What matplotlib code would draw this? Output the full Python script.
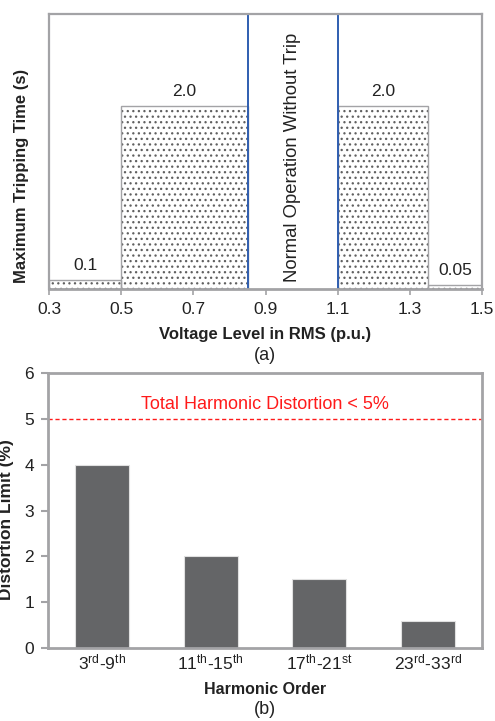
import numpy as np
import matplotlib
matplotlib.use('Agg')
import matplotlib.pyplot as plt

plt.rcParams['font.family'] = ['Liberation Sans', 'DejaVu Sans']
plt.rcParams['mathtext.fontset'] = 'custom'
plt.rcParams['mathtext.rm'] = 'Liberation Sans'
plt.rcParams['mathtext.it'] = 'Liberation Sans:italic'
plt.rcParams['mathtext.bf'] = 'Liberation Sans:bold'
plt.rcParams['hatch.linewidth'] = 0.9

# (a) tripping time vs voltage
v_left = [0.3, 0.5, 1.1, 1.35]
v_width = [0.2, 0.35, 0.25, 0.15]
trip_time = [0.1, 2.0, 2.0, 0.05]
trip_labels = ['0.1', '2.0', '2.0', '0.05']
normal_band = [0.85, 1.1]
v_ticks = [0.3, 0.5, 0.7, 0.9, 1.1, 1.3, 1.5]

# (b) harmonic limits
harmonics = ['3$^{\\rm rd}$-9$^{\\rm th}$', '11$^{\\rm th}$-15$^{\\rm th}$',
             '17$^{\\rm th}$-21$^{\\rm st}$', '23$^{\\rm rd}$-33$^{\\rm rd}$']
dist_limit = [4, 2, 1.5, 0.6]
thd_limit = 5

frame = '#a3a3a6'
txt = '#222222'
fig = plt.figure(figsize=(4.95, 7.21), dpi=100)

# ---- top chart
ax1 = fig.add_axes([0.099, 0.599, 0.875, 0.3816])
ax1.bar(v_left, trip_time, width=v_width, align='edge', color='white',
        edgecolor='#606060', hatch='...', linewidth=0)
ax1.bar(v_left, trip_time, width=v_width, align='edge', fill=False,
        edgecolor=frame, linewidth=1.0)
for x0, w, h, lab in zip(v_left, v_width, trip_time, trip_labels):
    ax1.annotate(lab, (x0 + w / 2, h), xytext=(0, 5), textcoords='offset points',
                 ha='center', va='bottom', fontsize=12.5, color=txt)
for xv in normal_band:
    ax1.axvline(xv, color='#2f5eb0', lw=1.4)
ax1.text(sum(normal_band) / 2, 1.44, 'Normal Operation Without Trip', rotation=90,
         ha='center', va='center', fontsize=13.3, color=txt)
ax1.set_xlim(0.3, 1.5)
ax1.set_ylim(0, 3.0)
ax1.set_xticks(v_ticks)
ax1.set_xticklabels([f'{t:.1f}' for t in v_ticks], fontsize=12.5, color=txt)
ax1.set_yticks([])
ax1.tick_params(axis='x', direction='out', length=4, color=frame, width=1.2, pad=5)
for s in ax1.spines.values():
    s.set_color(frame)
    s.set_linewidth(1.6)
ax1.spines['bottom'].set_linewidth(2)
fig.text(0.535, 1 - 335 / 721, 'Voltage Level in RMS (p.u.)', ha='center', va='center',
         fontsize=12, fontweight='bold', color=txt)
fig.text(0.535, 1 - 355 / 721, '(a)', ha='center', va='center', fontsize=13, color=txt)
fig.text(22 / 495, 1 - 176 / 721, 'Maximum Tripping Time (s)', rotation=90, ha='center',
         va='center', fontsize=12, fontweight='bold', color=txt)

# ---- bottom chart
ax2 = fig.add_axes([0.097, 0.1012, 0.877, 0.3815])
x = np.arange(len(harmonics))
ax2.bar(x, dist_limit, width=0.5, color='#646567', edgecolor='#e0e0e0', linewidth=0.8)
ax2.axhline(thd_limit, color='#ff1a1a', lw=1, ls=(0, (3, 2)))
ax2.text(1.5, thd_limit + 0.12, 'Total Harmonic Distortion < 5%', ha='center', va='bottom',
         fontsize=13, color='#ff1a1a')
ax2.set_xlim(-0.5, 3.5)
ax2.set_ylim(0, 6)
ax2.set_yticks(range(0, 7))
ax2.set_yticklabels([str(i) for i in range(0, 7)], fontsize=12.5, color=txt)
ax2.set_xticks(x)
ax2.set_xticklabels(harmonics, fontsize=12.5, color=txt)
ax2.tick_params(axis='y', direction='out', length=5, color=frame, width=1.5, pad=5)
ax2.tick_params(axis='x', length=0, pad=3)
for s in ax2.spines.values():
    s.set_color(frame)
    s.set_linewidth(2)
fig.text(0.535, 1 - 690 / 721, 'Harmonic Order', ha='center', va='center',
         fontsize=11.5, fontweight='bold', color=txt)
fig.text(0.535, 1 - 710 / 721, '(b)', ha='center', va='center', fontsize=13, color=txt)
fig.text(7 / 495, 1 - 520 / 721, 'Distortion Limit (%)', rotation=90, ha='center',
         va='center', fontsize=12.5, fontweight='bold', color=txt)

fig.savefig('out.png', dpi=100)
